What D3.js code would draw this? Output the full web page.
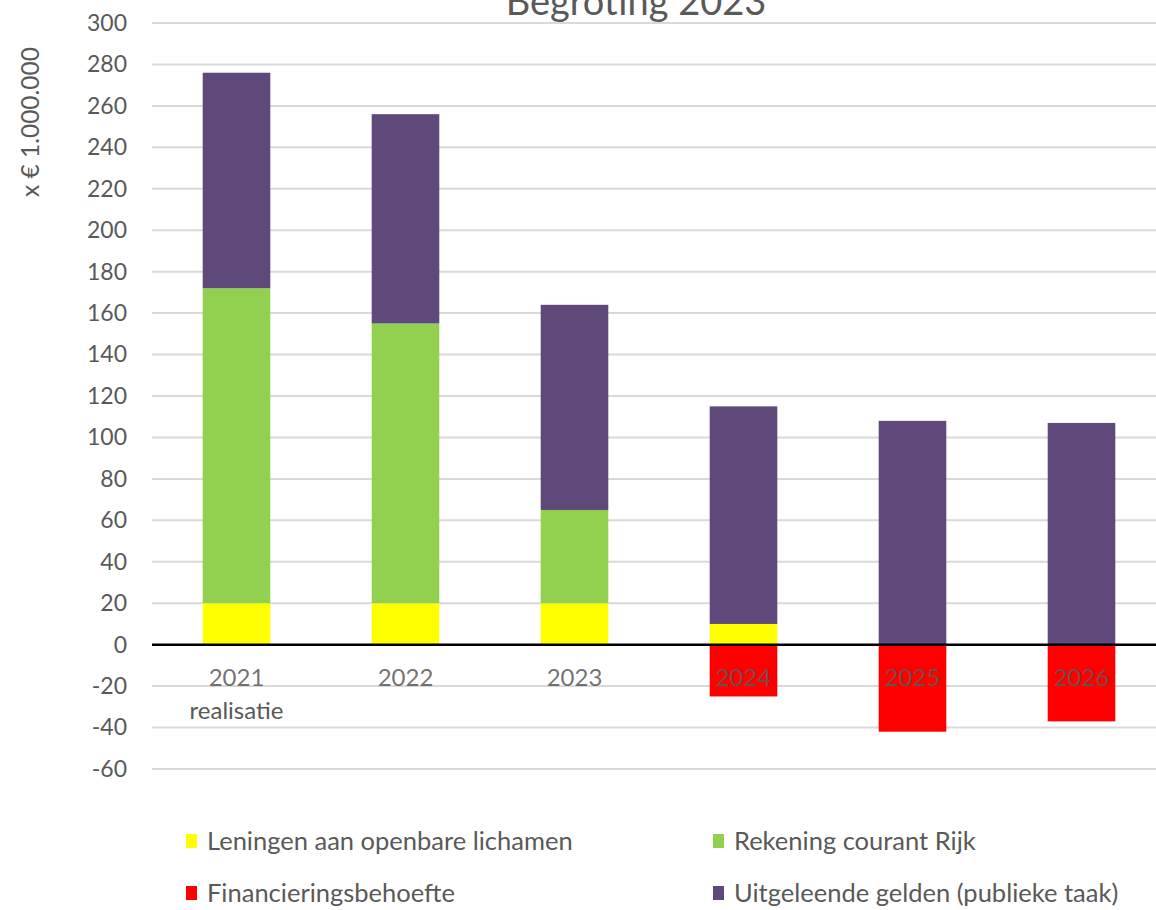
<!DOCTYPE html>
<html>
<head>
<meta charset="utf-8">
<script src="https://cdn.jsdelivr.net/npm/d3@7"></script>
<style>
  html, body { margin: 0; padding: 0; background: #fff; }
  svg { display: block; font-family: Lato, "Open Sans", sans-serif; }
</style>
</head>
<body>
<svg id="chart" width="1156" height="910"></svg>
<script>
// Financing overview, amounts x € 1.000.000
const years = ["2021", "2022", "2023", "2024", "2025", "2026"];
const yearSub = ["realisatie", "", "", "", "", ""];
const leningen = [20, 20, 20, 10, 0, 0];
const rekeningCourant = [152, 135, 45, 0, 0, 0];
const uitgeleend = [104, 101, 99, 105, 108, 107];
const financiering = [0, 0, 0, -25, -42, -37];
const yTicks = [-60, -40, -20, 0, 20, 40, 60, 80, 100, 120, 140, 160, 180, 200, 220, 240, 260, 280, 300];

const seriesKeys = ["leningen", "rekeningCourant", "uitgeleend"];
const colors = {
  leningen: "#ffff00",
  rekeningCourant: "#92d050",
  uitgeleend: "#5f497a",
  financiering: "#ff0000"
};
const legendItems = [
  { key: "leningen", label: "Leningen aan openbare lichamen" },
  { key: "rekeningCourant", label: "Rekening courant Rijk" },
  { key: "financiering", label: "Financieringsbehoefte" },
  { key: "uitgeleend", label: "Uitgeleende gelden (publieke taak)" }
];

const rows = years.map((y, i) => ({
  year: y,
  leningen: leningen[i],
  rekeningCourant: rekeningCourant[i],
  uitgeleend: uitgeleend[i],
  financiering: financiering[i]
}));

const svg = d3.select("#chart");
const plotLeft = 152, plotRight = 1166;
const textColor = "#595959";

const x = d3.scaleBand().domain(years).range([plotLeft, plotRight])
  .paddingInner(0.6).paddingOuter(0.3);
const y = d3.scaleLinear().domain([-60, 300]).range([769, 23]);

// gridlines
svg.append("g").selectAll("line").data(yTicks.filter(t => t !== 0)).join("line")
  .attr("x1", plotLeft).attr("x2", 1156)
  .attr("y1", d => y(d)).attr("y2", d => y(d))
  .attr("stroke", "#d9d9d9").attr("stroke-width", 2);

// y tick labels (plain hyphen for negatives)
const yAxis = d3.axisLeft(y).tickValues(yTicks).tickSize(0).tickPadding(0)
  .tickFormat(d => String(d));
const gy = svg.append("g").attr("transform", "translate(127,0)").call(yAxis);
gy.select(".domain").remove();
gy.selectAll("text")
  .attr("fill", textColor).attr("font-size", 23)
  .attr("font-family", "Lato, 'Open Sans', sans-serif");

// stacked positive bars
const stack = d3.stack().keys(seriesKeys);
const stacked = stack(rows);
svg.append("g").selectAll("g").data(stacked).join("g")
  .attr("fill", d => colors[d.key])
  .selectAll("rect").data(d => d).join("rect")
  .attr("x", d => x(d.data.year))
  .attr("width", x.bandwidth())
  .attr("y", d => y(d[1]))
  .attr("height", d => Math.max(0, y(d[0]) - y(d[1])));

// negative bars (financing need)
svg.append("g").selectAll("rect").data(rows.filter(r => r.financiering < 0)).join("rect")
  .attr("fill", colors.financiering)
  .attr("x", d => x(d.year))
  .attr("width", x.bandwidth())
  .attr("y", y(0))
  .attr("height", d => y(d.financiering) - y(0));

// zero line
svg.append("line")
  .attr("x1", plotLeft).attr("x2", 1156)
  .attr("y1", y(0)).attr("y2", y(0))
  .attr("stroke", "#000").attr("stroke-width", 2.5);

// x category labels
svg.append("g").selectAll("text").data(years).join("text")
  .attr("x", d => x(d) + x.bandwidth() / 2)
  .attr("y", 686)
  .attr("text-anchor", "middle")
  .attr("font-size", 24)
  .attr("fill", textColor)
  .attr("fill-opacity", 0.85)
  .text(d => d);
svg.append("g").selectAll("text").data(years.filter((d, i) => yearSub[i])).join("text")
  .attr("x", d => x(d) + x.bandwidth() / 2)
  .attr("y", 719)
  .attr("text-anchor", "middle")
  .attr("font-size", 24)
  .attr("fill", textColor)
  .text(d => yearSub[years.indexOf(d)]);

// title
svg.append("text")
  .attr("x", 636).attr("y", 15)
  .attr("text-anchor", "middle")
  .attr("font-size", 38)
  .attr("fill", textColor)
  .text("Begroting 2023");

// y axis title
svg.append("text")
  .attr("transform", "translate(39,122) rotate(-90)")
  .attr("text-anchor", "middle")
  .attr("font-size", 24.5)
  .attr("fill", textColor)
  .text("x € 1.000.000");

// legend
const legendPos = [[186, 841], [713, 841], [186, 893], [713, 893]];
const lg = svg.append("g").selectAll("g").data(legendItems).join("g")
  .attr("transform", (d, i) => `translate(${legendPos[i][0]},${legendPos[i][1]})`);
lg.append("rect")
  .attr("x", 0).attr("y", -7).attr("width", 11).attr("height", 14)
  .attr("fill", d => colors[d.key]);
lg.append("text")
  .attr("x", 21).attr("y", 0).attr("dy", "0.35em")
  .attr("font-size", 25.5)
  .attr("fill", textColor)
  .text(d => d.label);
</script>
</body>
</html>
